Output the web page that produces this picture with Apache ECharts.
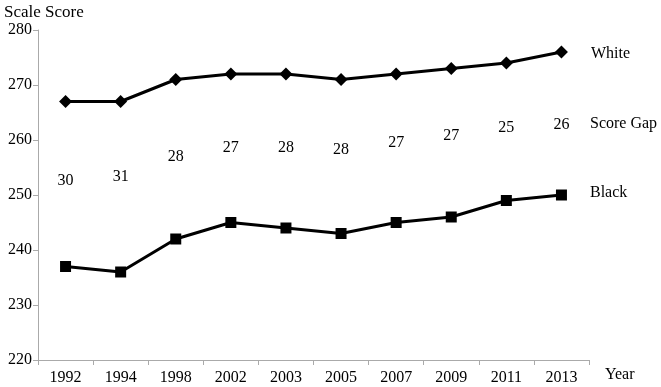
<!DOCTYPE html>
<html><head><meta charset="utf-8">
<script src="https://cdn.jsdelivr.net/npm/echarts@6/dist/echarts.min.js"></script>
<style>html,body{margin:0;padding:0;background:#fff}#c{width:661px;height:387px}</style>
</head><body><div id="c"></div>
<script>
const years = ['1992','1994','1998','2002','2003','2005','2007','2009','2011','2013'];
const white = [267,267,271,272,272,271,272,273,274,276];
const black = [237,236,242,245,244,243,245,246,249,250];
const gap = [30,31,28,27,28,28,27,27,25,26];
const gapLabelLevel = [252.5,253.3,256.9,258.5,258.5,258.3,259.5,260.7,262.2,262.7];

const font = 'Liberation Serif';
const chart = echarts.init(document.getElementById('c'));
chart.setOption({
  animation:false,
  grid:{left:38,right:72,top:30,bottom:27},
  xAxis:{type:'category',data:years,boundaryGap:true,
    axisLine:{lineStyle:{color:'#aaa',width:1}},
    axisTick:{show:true,length:5,lineStyle:{color:'#aaa'}},
    axisLabel:{color:'#000',fontFamily:font,fontSize:16,margin:10}},
  yAxis:{type:'value',min:220,max:280,interval:10,
    axisLine:{show:true,lineStyle:{color:'#aaa',width:1}},
    axisTick:{show:true,length:5,lineStyle:{color:'#aaa'}},
    splitLine:{show:false},
    axisLabel:{color:'#000',fontFamily:font,fontSize:16,margin:6}},
  series:[
    {name:'White',type:'line',data:white,symbol:'diamond',symbolSize:13,
      lineStyle:{color:'#000',width:3},itemStyle:{color:'#000'}},
    {name:'Black',type:'line',data:black,symbol:'rect',symbolSize:11,
      lineStyle:{color:'#000',width:3},itemStyle:{color:'#000'}},
    {name:'Score Gap',type:'scatter',symbolSize:0,
      itemStyle:{opacity:1,color:'#000'},
      data:gapLabelLevel.map((v,i)=>[i,v]),
      label:{show:true,position:'inside',color:'#000',opacity:1,fontFamily:font,fontSize:16,
        formatter:p=>String(gap[p.dataIndex])}}
  ],
  graphic:[
    {type:'text',left:4,top:4,style:{text:'Scale Score',font:'17px "Liberation Serif"',fill:'#000'}},
    {type:'text',left:591,top:46,style:{text:'White',font:'16px "Liberation Serif"',fill:'#000'}},
    {type:'text',left:590,top:116,style:{text:'Score Gap',font:'16px "Liberation Serif"',fill:'#000'}},
    {type:'text',left:590,top:185,style:{text:'Black',font:'16px "Liberation Serif"',fill:'#000'}},
    {type:'text',left:605,top:367,style:{text:'Year',font:'16px "Liberation Serif"',fill:'#000'}}
  ]
});
</script></body></html>
